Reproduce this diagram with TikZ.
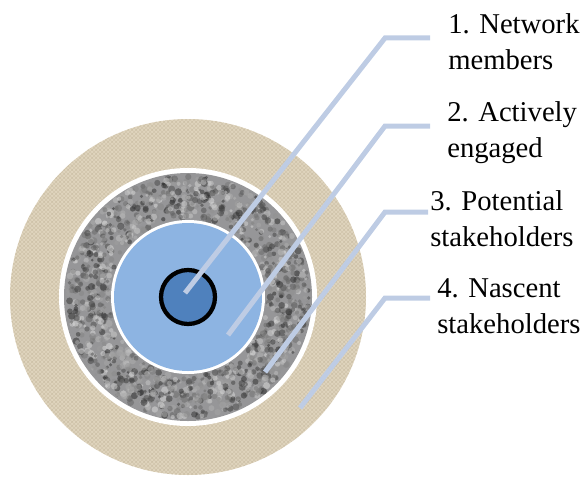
\documentclass[tikz,border=0pt]{standalone}
\usepackage{fontspec}
\setmainfont{Liberation Serif}
\usetikzlibrary{calc}
\usetikzlibrary{positioning}
\usetikzlibrary{patterns}
\definecolor{clothtan}{RGB}{224,213,190}
\definecolor{clothline}{RGB}{190,176,148}
\definecolor{granite}{RGB}{150,150,152}
\definecolor{paleblue}{RGB}{141,180,226}
\definecolor{deepblue}{RGB}{79,129,189}
\definecolor{leadcol}{RGB}{190,204,228}
\tikzset{leader/.style={draw=leadcol,line width=3.75pt},
  lab/.style={anchor=north west,inner sep=0pt,align=left,font=\fontsize{21.5}{27.5}\selectfont}}

\begin{document}
\begin{tikzpicture}[x=0.75pt,y=-0.75pt]
  \tikzstyle{whitering}=[fill=white]
  \def\rout{178}
  \def\rgran{124}
  \def\rblue{74}
  \useasboundingbox (0,0) rectangle (584,478);
  \coordinate (c) at (188,297);

  % outer cloth ring
  \fill[clothtan] (c) circle (\rout);
  \fill[pattern=crosshatch,pattern color=clothline,opacity=0.45] (c) circle (\rout);
  \fill[whitering] (c) circle (129);

  % granite ring
  \fill[granite] (c) circle (\rgran);
  \pgfmathsetseed{11}
  \foreach \i in {1,...,1500}{
    \pgfmathsetmacro{\ang}{360*rnd}
    \pgfmathsetmacro{\rad}{sqrt(rnd*(121*121-79*79)+79*79)}
    \pgfmathsetmacro{\shade}{int(15+70*rnd)}
    \fill[black!\shade!white,opacity=0.55] ($(c)+(\ang:\rad)$) circle (1.5+2.2*rnd);
  }
  \fill[whitering] (c) circle (77);

  % inner circles
  \fill[paleblue] (c) circle (\rblue);
  \draw[black,line width=3.2pt,fill=deepblue] (c) circle (27);

  % labels
  \node[lab] (lab1) at (448,13) {1. Network\\members};
  \node[lab] (lab2) at (447,101) {2. Actively\\engaged};
  \node[lab] (lab3) at (430,190) {3. Potential\\stakeholders};
  \node[lab] (lab4) at (437,278) {4.\,\,Nascent\\stakeholders};

  % leader lines
  \coordinate (tip1) at (185,293);
  \coordinate (tip2) at (228,335);
  \coordinate (tip3) at (265,372);
  \coordinate (tip4) at (300,408);
  \coordinate (knee1) at (385,38);
  \coordinate (knee2) at (385,126);
  \coordinate (knee3) at (385,212);
  \coordinate (knee4) at (385,298);
  \path [leader] (tip1) -- (knee1) -- (knee1-|lab3.west);
  \path [leader] (tip2) -- (knee2) -- (knee2-|lab3.west);
  \path [leader] (tip3) -- (knee3) -- ([xshift=-1.5pt]knee3-|lab3.west);
  \path [leader] (tip4) -- (knee4) -- (knee4-|lab3.west);
\end{tikzpicture}
\end{document}
